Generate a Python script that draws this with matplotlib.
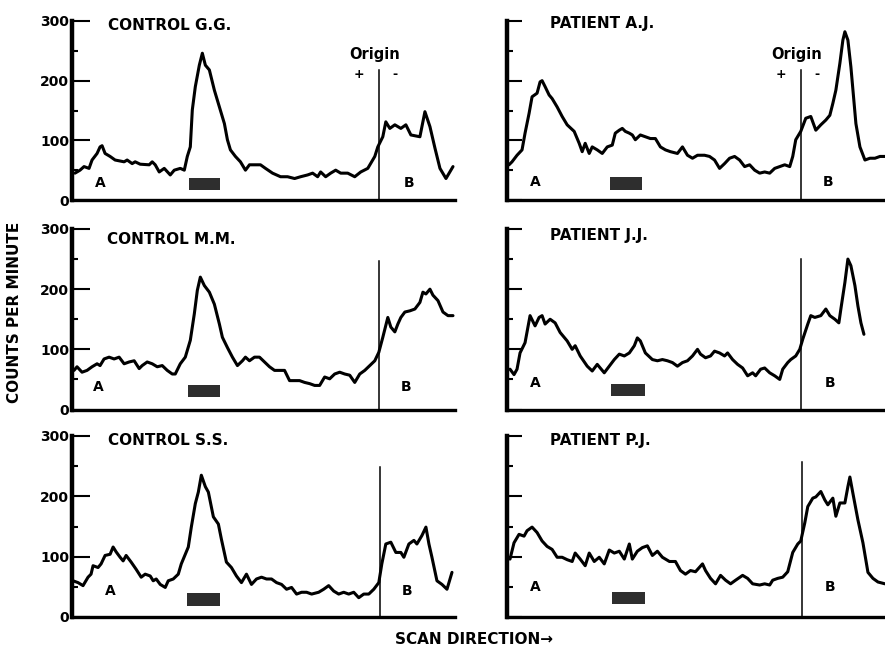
import matplotlib
matplotlib.use("Agg")
import matplotlib.pyplot as plt
from matplotlib.patches import Rectangle

# scan position (arbitrary units along strip, 0..382) and counts per minute
gg_x = [3, 8, 12, 17, 20, 25, 28, 30, 33, 38, 43, 52, 55, 60, 63, 68, 77, 80, 83, 87,
        92, 98, 102, 108, 112, 115, 118, 120, 123, 127, 130, 133, 137, 142, 147, 152,
        155, 158, 163, 168, 173, 177, 182, 188, 193, 200, 208, 215, 222, 228, 235, 240,
        245, 248, 253, 258, 263, 268, 275, 282, 288, 295, 302, 305, 310, 313, 317, 322,
        328, 333, 338, 347, 352, 357, 362, 367, 373, 380]
gg_y = [45, 50, 56, 53, 67, 78, 89, 91, 78, 73, 67, 64, 67, 61, 64, 60, 59, 64, 59, 47,
        53, 42, 50, 53, 50, 73, 89, 151, 190, 226, 246, 226, 218, 184, 156, 128,
        101, 84, 73, 64, 50, 59, 59, 59, 53, 45, 39, 39, 36, 39, 42, 45,
        39, 47, 39, 45, 50, 45, 45, 39, 47, 53, 73, 89, 106, 131, 120, 126,
        120, 126, 109, 106, 148, 123, 87, 53, 36, 56]

aj_x = [2, 5, 10, 15, 18, 22, 25, 30, 33, 35, 38, 42, 45, 50, 55, 60, 67, 72, 75, 78,
        82, 85, 90, 95, 100, 105, 108, 112, 115, 118, 122, 125, 128, 133, 138, 143, 148,
        153, 158, 163, 170, 175, 180, 185, 190, 197, 202, 207, 212, 217, 222, 227, 232,
        237, 242, 247, 252, 257, 262, 267, 272, 277, 282, 285, 288, 293, 298, 303, 308,
        313, 318, 322, 325, 328, 332, 335, 337, 340, 343, 348, 352, 357, 362, 367, 372, 378]
aj_y = [59, 64, 75, 84, 112, 145, 173, 179, 198, 200, 190, 176, 170, 156, 140, 126, 115,
        95, 81, 95, 78, 89, 84, 78, 89, 92, 112, 117, 120, 115, 112, 109, 101, 109, 106,
        103, 103, 89, 84, 81, 78, 89, 75, 70, 75, 75, 73, 67, 53, 61, 70, 73, 67,
        56, 59, 50, 45, 47, 45, 53, 56, 59, 56, 73, 101, 115, 137, 140, 117,
        126, 134, 142, 162, 184, 229, 268, 282, 268, 223, 128, 89, 67, 70, 70, 73, 73]

mm_x = [2, 5, 10, 15, 20, 25, 28, 32, 37, 42, 47, 52, 57, 62, 67, 70, 75, 80, 85, 90,
        95, 100, 103, 108, 113, 118, 122, 125, 128, 132, 137, 142, 147, 150, 155, 160,
        165, 170, 173, 177, 182, 187, 192, 197, 202, 207, 212, 217, 222, 227, 232, 237,
        242, 247, 252, 257, 262, 267, 272, 277, 282, 287, 292, 297, 302, 306, 310, 315,
        318, 322, 325, 328, 332, 337, 342, 347, 350, 353, 357, 360, 365, 370, 375, 380]
mm_y = [65, 71, 62, 65, 71, 76, 73, 84, 87, 84, 87, 76, 79, 81, 68, 73, 79, 76, 71, 73,
        65, 59, 59, 76, 87, 115, 159, 198, 220, 206, 195, 175, 142, 120, 103, 87,
        73, 81, 87, 81, 87, 87, 79, 71, 65, 65, 65, 48, 48, 48, 45, 43,
        40, 40, 54, 51, 59, 62, 59, 57, 45, 59, 65, 73, 81, 95, 120, 153,
        137, 129, 142, 153, 162, 164, 167, 178, 195, 192, 200, 190, 181, 162, 156, 156]

jj_x = [3, 7, 10, 13, 18, 23, 28, 32, 35, 38, 43, 48, 53, 60, 65, 68, 73, 80, 85, 90,
        97, 102, 107, 112, 117, 122, 127, 130, 133, 138, 145, 150, 155, 160, 165, 170,
        175, 180, 185, 190, 193, 198, 203, 207, 212, 217, 220, 225, 230, 235, 240, 245,
        248, 253, 257, 262, 267, 272, 275, 280, 283, 288, 292, 295, 300, 303, 307, 313,
        318, 322, 327, 331, 333, 337, 340, 343, 347, 350, 353, 356]
jj_y = [67, 58, 67, 94, 111, 156, 139, 153, 156, 142, 150, 144, 128, 114, 100, 106, 89,
        72, 64, 75, 61, 72, 83, 92, 89, 94, 106, 119, 114, 94, 83, 81, 83, 81, 78, 72,
        78, 81, 89, 100, 92, 86, 89, 97, 94, 89, 94, 83, 75, 69, 56, 61, 56,
        67, 69, 61, 56, 50, 67, 78, 83, 89, 100, 117, 142, 156, 153, 156, 167, 156,
        150, 144, 167, 211, 250, 239, 206, 172, 144, 125]

ss_x = [1, 6, 11, 16, 19, 21, 26, 29, 33, 38, 41, 44, 48, 51, 54, 59, 64, 69, 73, 78,
        81, 84, 88, 93, 96, 101, 106, 109, 113, 116, 119, 123, 126, 129, 133, 136, 141,
        146, 149, 154, 159, 164, 169, 174, 179, 184, 189, 194, 199, 204, 209, 214, 219,
        224, 229, 234, 239, 246, 251, 256, 261, 266, 271, 276, 281, 286, 291, 296, 301,
        306, 309, 313, 318, 323, 328, 331, 336, 341, 344, 349, 353, 356, 359, 364, 369,
        374, 379]
ss_y = [60, 57, 52, 66, 71, 85, 82, 88, 102, 104, 116, 108, 99, 93, 102, 91, 79, 66, 71,
        68, 60, 63, 54, 49, 60, 63, 71, 88, 104, 116, 149, 188, 207, 235, 216, 207, 166,
        154, 129, 91, 82, 68, 57, 71, 54, 63, 66, 63, 63, 57, 54, 46, 49,
        38, 41, 41, 38, 41, 46, 52, 43, 38, 41, 38, 41, 32, 38, 38, 46,
        57, 88, 121, 124, 107, 107, 99, 121, 127, 121, 135, 149, 121, 99, 60, 54,
        46, 74]

pj_x = [3, 7, 12, 17, 20, 25, 30, 35, 40, 45, 50, 55, 60, 65, 68, 73, 78, 82, 87, 92,
        97, 102, 107, 112, 117, 122, 125, 130, 135, 140, 145, 150, 155, 162, 168, 173,
        178, 183, 188, 195, 198, 203, 208, 213, 218, 223, 228, 235, 240, 245, 252, 257,
        262, 265, 270, 275, 280, 285, 290, 293, 297, 300, 305, 308, 313, 317, 320, 325,
        328, 332, 337, 340, 342, 345, 350, 355, 360, 365, 370, 377]
pj_y = [96, 123, 137, 134, 143, 149, 140, 126, 117, 112, 99, 99, 95, 92, 106, 96, 85,
        106, 92, 99, 88, 111, 106, 109, 96, 121, 96, 109, 115, 118, 102, 109, 99, 92,
        92, 77, 71, 77, 75, 88, 77, 64, 55, 69, 61, 55, 61, 69, 64, 55, 53, 55,
        53, 61, 64, 66, 75, 107, 121, 126, 156, 183, 197, 199, 208, 194, 186, 197,
        167, 189, 189, 216, 232, 205, 161, 123, 74, 64, 58, 55]

titles = ["CONTROL G.G.", "PATIENT A.J.", "CONTROL M.M.", "PATIENT J.J.",
          "CONTROL S.S.", "PATIENT P.J."]
title_x = [36, 43, 35, 43, 36, 43]
title_y = [293, 296, 283, 289, 292, 292]
origin_x = [306, 293, 306, 293, 307, 294]
origin_top = [218, 218, 247, 250, 249, 257]
a_x = [28, 28, 26, 28, 38, 28]
a_y = [29, 31, 37, 44, 43, 50]
b_x = [336, 320, 333, 322, 334, 322]
band_x0 = [117, 103, 116, 104, 115, 105]
band_x1 = [148, 135, 148, 138, 148, 138]
band_y0 = [17, 17, 20, 22, 18, 21]
band_y1 = [37, 39, 41, 43, 39, 42]

series = [(gg_x, gg_y), (aj_x, aj_y), (mm_x, mm_y), (jj_x, jj_y), (ss_x, ss_y), (pj_x, pj_y)]

W, H = 885, 650
fig = plt.figure(figsize=(W / 100, H / 100), dpi=100)
fig.patch.set_facecolor("white")

col_left = [72, 507]
row_bot = [200, 409.5, 617]
row_top = [21, 229, 436]
ax_w = 383

for i, (xs, ys) in enumerate(series):
    r, c = divmod(i, 2)
    rect = [col_left[c] / W, (H - row_bot[r]) / H, ax_w / W, (row_bot[r] - row_top[r]) / H]
    ax = fig.add_axes(rect)
    ax.plot(xs, ys, color="black", lw=2.2, solid_joinstyle="round", solid_capstyle="round")
    ax.plot([origin_x[i], origin_x[i]], [0, origin_top[i]], color="black", lw=1.1)
    ax.add_patch(Rectangle((band_x0[i], band_y0[i]), band_x1[i] - band_x0[i],
                           band_y1[i] - band_y0[i], color="#2e2e2e", lw=0))
    ax.set_xlim(0, 382)
    ax.set_ylim(0, 300)
    for side in ["top", "right"]:
        ax.spines[side].set_visible(False)
    ax.spines["left"].set_linewidth(3.2)
    ax.spines["bottom"].set_linewidth(2.4)
    ax.set_xticks([])
    ax.set_yticks([0, 100, 200, 300])
    ax.set_yticks([50, 150, 250], minor=True)
    ax.tick_params(axis="y", which="major", direction="in", length=13 if c == 0 else 11,
                   width=1.5, pad=2, labelleft=(c == 0), labelsize=10)
    ax.tick_params(axis="y", which="minor", direction="in", length=4, width=1.5)
    for lab in ax.get_yticklabels():
        lab.set_fontweight("bold")

    ax.text(title_x[i], title_y[i], titles[i], fontsize=11, fontweight="bold",
            ha="left", va="center", clip_on=False)
    ax.text(a_x[i], a_y[i], "A", fontsize=10, fontweight="bold", ha="center", va="center")
    ax.text(b_x[i], a_y[i], "B", fontsize=10, fontweight="bold", ha="center", va="center")
    if r == 0:
        ax.text(origin_x[i] - 4, 244, "Origin", fontsize=10.5, fontweight="bold",
                ha="center", va="center")
        ax.text(origin_x[i] - 20, 211, "+", fontsize=9, fontweight="bold",
                ha="center", va="center")
        ax.text(origin_x[i] + 16, 211, "-", fontsize=9, fontweight="bold",
                ha="center", va="center")

fig.text(15 / W, (H - 312) / H, "COUNTS PER MINUTE", rotation=90, fontsize=11,
         fontweight="bold", ha="center", va="center")
fig.text(474 / W, (H - 640) / H, "SCAN DIRECTION\u2192", fontsize=11,
         fontweight="bold", ha="center", va="center")

fig.savefig("out.png", dpi=100)
